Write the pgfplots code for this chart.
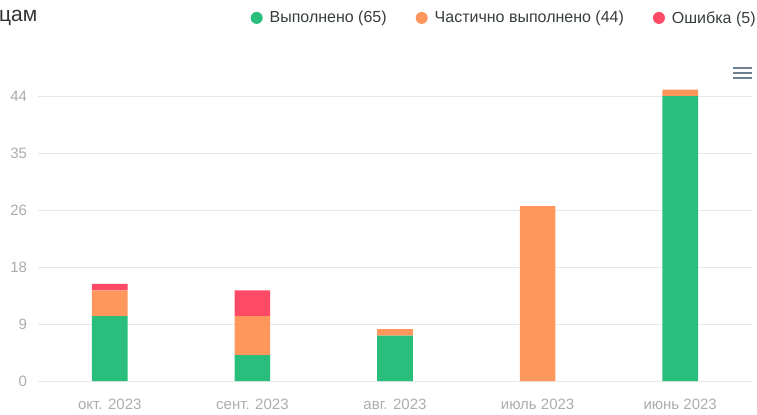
\documentclass[border=0pt]{standalone}
\usepackage{fontspec}
\setmainfont{Liberation Sans}
\usepackage{pgfplots}
\pgfplotsset{compat=1.18}
\definecolor{cgreen}{RGB}{42,190,125}
\definecolor{corange}{RGB}{255,150,92}
\definecolor{cred}{RGB}{255,74,102}
\definecolor{tickgray}{RGB}{172,172,172}
\definecolor{gridgray}{RGB}{232,232,232}
\definecolor{legtext}{RGB}{55,61,63}
\definecolor{menugray}{RGB}{110,129,146}
\begin{document}
\begin{tikzpicture}
\useasboundingbox (0,0) rectangle (757bp,415bp);
\begin{axis}[
  at={(38.5bp,34bp)}, anchor=south west,
  scale only axis, width=713bp, height=285bp,
  xmin=-0.5, xmax=4.5, ymin=0, ymax=44,
  clip=false,
  ybar stacked, bar width=0.25,
  axis line style={draw=none},
  major tick length=0pt,
  xtick={0,1,2,3,4},
  xticklabels={окт. 2023, сент. 2023, авг. 2023, июль 2023, июнь 2023},
  ytick={0,8.8,17.6,26.4,35.2,44}, yticklabels={0,9,18,26,35,44},
  ymajorgrids, grid style={gridgray, line width=0.8bp},
  /pgf/number format/assume math mode=true,
  tick label style={font=\fontsize{15bp}{17bp}\selectfont, text=tickgray},
  xticklabel style={yshift=-15bp},
  yticklabel style={xshift=-8bp},
  legend columns=3,
  legend style={at={(1.013,1.274)}, anchor=east, draw=none, fill=none,
    font=\fontsize{16bp}{18bp}\selectfont, text=legtext,
    /tikz/every even column/.append style={column sep=27bp}},
  legend image code/.code={\path[#1, draw=none] (0bp,0bp) circle (6bp); \path (11bp,0bp);},
]
\addplot[fill=cgreen, draw=none] coordinates {(0,10) (1,4) (2,7) (3,0) (4,44)};
\addplot[fill=corange, draw=none] coordinates {(0,4) (1,6) (2,1) (3,27) (4,1)};
\addplot[fill=cred, draw=none] coordinates {(0,1) (1,4) (2,0) (3,0) (4,0)};
\legend{Выполнено (65), Частично выполнено (44), Ошибка (5)}
\end{axis}
\node[anchor=west, inner sep=0pt, font=\fontsize{21bp}{24bp}\selectfont, text=black!80] at (-1bp,397bp) {цам};
\draw[menugray, line width=1.8bp] (733bp,347bp) -- (752bp,347bp);
\draw[menugray, line width=1.8bp] (733bp,342bp) -- (752bp,342bp);
\draw[menugray, line width=1.8bp] (733bp,337bp) -- (752bp,337bp);
\end{tikzpicture}
\end{document}
